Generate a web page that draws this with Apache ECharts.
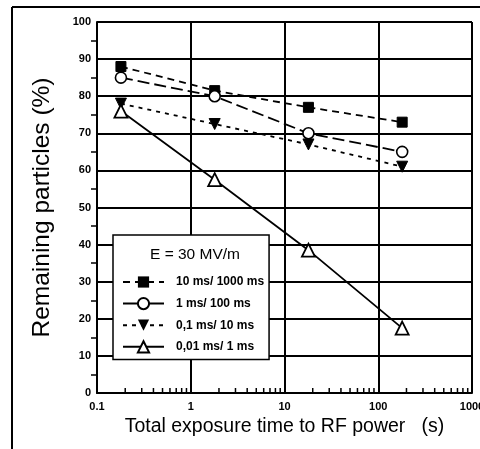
<!DOCTYPE html>
<html>
<head>
<meta charset="utf-8">
<script src="https://cdn.jsdelivr.net/npm/echarts@6/dist/echarts.min.js"></script>
<style>
  html, body { margin: 0; padding: 0; background: #fff; }
  #chart { width: 480px; height: 449px; }
</style>
</head>
<body>
<div id="chart"></div>
<script>
// Exposure times (s) shared by all pulse settings
const exposureTimes = [0.18, 1.8, 18, 180];

// Remaining particles (%) for each pulse length / period
const seriesNames = ['10 ms/ 1000 ms', '1 ms/ 100 ms', '0,1 ms/ 10 ms', '0,01 ms/ 1 ms'];
const remain10ms = [88, 81.5, 77, 73];
const remain1ms = [85, 80, 70, 65];
const remain01ms = [78, 72.5, 67, 61];
const remain001ms = [76, 57.5, 38.5, 17.5];

const xTickLabels = ['0.1', '1', '10', '100', '1000'];
const yTicks = [0, 10, 20, 30, 40, 50, 60, 70, 80, 90, 100];

// log minor tick positions (2..9 within each decade)
const minorX = [];
[0.1, 1, 10, 100].forEach(function (d) {
  for (let k = 2; k <= 9; k++) minorX.push(+(d * k).toPrecision(3));
});

function pairs(vals) {
  return exposureTimes.map(function (t, i) { return [t, vals[i]]; });
}

const FONT = 'Liberation Sans, Arial, sans-serif';
const chart = echarts.init(document.getElementById('chart'));

const baseLine = { color: '#000', width: 1.8 };

chart.setOption({
  animation: false,
  backgroundColor: '#fff',
  textStyle: { fontFamily: FONT, color: '#000' },
  grid: { left: 97, top: 22, right: 8, bottom: 56, containLabel: false, outerBoundsMode: 'none' },
  xAxis: {
    type: 'log',
    logBase: 10,
    min: 0.1,
    max: 1000,
    name: 'Total exposure time to RF power   (s)',
    nameLocation: 'middle',
    nameGap: 23,
    nameTextStyle: { fontSize: 19.5, color: '#000', fontFamily: FONT },
    axisLine: { show: true, lineStyle: { color: '#000', width: 2 } },
    axisTick: { show: false },
    axisLabel: {
      fontSize: 11, fontWeight: 'bold', color: '#000', margin: 8,
      formatter: function (v) {
        const idx = Math.round(Math.log10(v)) + 1;
        return xTickLabels[idx] !== undefined ? xTickLabels[idx] : '';
      }
    },
    splitLine: { show: true, lineStyle: { color: '#000', width: 2 } },
    minorTick: { show: false },
    minorSplitLine: { show: false }
  },
  yAxis: {
    type: 'value',
    min: 0,
    max: 100,
    interval: 10,
    name: 'Remaining particles (%)',
    nameLocation: 'middle',
    nameGap: 42,
    nameTextStyle: { fontSize: 24.5, color: '#000', fontFamily: FONT },
    axisLine: { show: true, lineStyle: { color: '#000', width: 2 } },
    axisTick: { show: false },
    minorTick: { show: true, splitNumber: 2, length: 6, lineStyle: { color: '#000', width: 1.5 } },
    axisLabel: {
      fontSize: 11, fontWeight: 'bold', color: '#000', margin: 6,
      formatter: function (v) { return yTicks.indexOf(v) >= 0 ? String(v) : ''; }
    },
    splitLine: { show: true, lineStyle: { color: '#000', width: 2 } }
  },
  legend: {
    orient: 'vertical',
    left: 113,
    top: 235,
    padding: [41, 5, 6, 9],
    itemWidth: 41,
    itemHeight: 14,
    itemGap: 9,
    borderColor: '#000',
    borderWidth: 1.5,
    backgroundColor: '#fff',
    textStyle: { fontSize: 12, fontWeight: 'bold', color: '#000', padding: [0, 0, 0, 7], fontFamily: FONT },
    data: [
      { name: seriesNames[0] },
      { name: seriesNames[1], lineStyle: { type: 'solid' } },
      { name: seriesNames[2] },
      { name: seriesNames[3] }
    ]
  },
  graphic: [
    { type: 'line', shape: { x1: 12, y1: 7, x2: 12, y2: 449 }, style: { stroke: '#000', lineWidth: 2 } },
    { type: 'line', shape: { x1: 12, y1: 7, x2: 480, y2: 7 }, style: { stroke: '#000', lineWidth: 2 } },
    {
      type: 'text', x: 195, y: 255, z: 100,
      style: { text: 'E = 30 MV/m', fontSize: 15.5, fill: '#000', align: 'center', verticalAlign: 'middle',
        fontFamily: FONT }
    }
  ],
  series: [
    {
      name: seriesNames[0], type: 'line', data: pairs(remain10ms),
      symbol: 'rect', symbolSize: 10,
      itemStyle: { color: '#000', borderColor: '#000' },
      lineStyle: Object.assign({}, baseLine, { type: [7, 5] }), z: 5
    },
    {
      name: seriesNames[1], type: 'line', data: pairs(remain1ms),
      symbol: 'circle', symbolSize: 11,
      itemStyle: { color: '#fff', borderColor: '#000', borderWidth: 1.6 },
      lineStyle: Object.assign({}, baseLine, { type: [12, 5] }), z: 5
    },
    {
      name: seriesNames[2], type: 'line', data: pairs(remain01ms),
      symbol: 'triangle', symbolRotate: 180, symbolSize: 11,
      itemStyle: { color: '#000', borderColor: '#000' },
      lineStyle: Object.assign({}, baseLine, { type: [4, 5] }), z: 5
    },
    {
      name: seriesNames[3], type: 'line', data: pairs(remain001ms),
      symbol: 'triangle', symbolSize: 13,
      itemStyle: { color: '#fff', borderColor: '#000', borderWidth: 1.8 },
      lineStyle: Object.assign({}, baseLine, { type: 'solid' }), z: 5
    },
    {
      // log minor ticks along the bottom axis
      type: 'custom',
      silent: true,
      z: 3,
      data: minorX.map(function (v) { return [v, 0]; }),
      renderItem: function (params, api) {
        const p = api.coord([api.value(0), 0]);
        return {
          type: 'line',
          shape: { x1: p[0], y1: p[1], x2: p[0], y2: p[1] - 5 },
          style: { stroke: '#000', lineWidth: 1.5 }
        };
      }
    }
  ]
});
</script>
</body>
</html>
